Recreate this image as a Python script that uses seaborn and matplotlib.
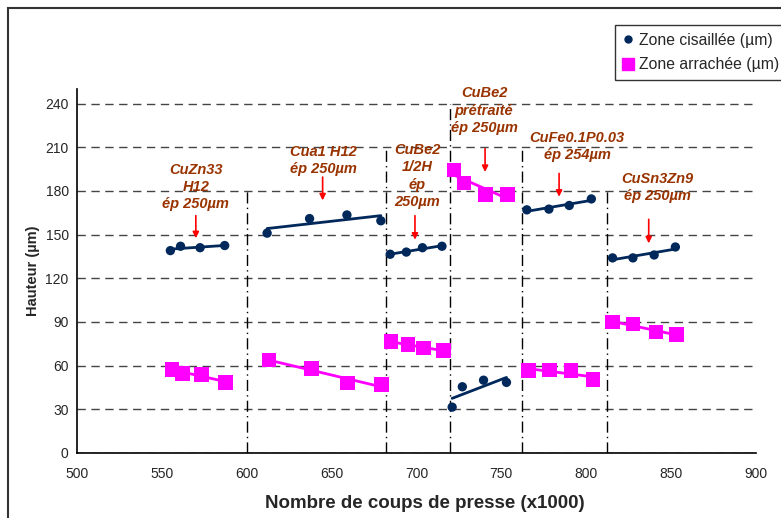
import matplotlib
matplotlib.use('Agg')
import matplotlib.pyplot as plt
import numpy as np
import pandas as pd
import seaborn as sns
from matplotlib.lines import Line2D
from matplotlib.patches import Rectangle

# Data (x in thousands of press strokes, y in µm)
groups = ['CuZn33 H12', 'Cua1 H12', 'CuBe2 1/2H', 'CuBe2 prétraité', 'CuFe0.1P0.03', 'CuSn3Zn9']

cis_x = [[555, 561, 572.5, 587], [612, 637, 659, 679], [684.5, 694, 703.5, 715],
         [721, 727, 739.5, 753], [765, 778, 790, 803], [815.5, 827.5, 840, 852.5]]
cis_y = [[139, 142, 141, 142.5], [151, 161, 163.5, 159.5], [136.5, 138, 141, 142],
         [31.5, 45.5, 50, 48.5], [167, 167.5, 170, 174.5], [134, 134, 136, 141.5]]

arr_x = [[556, 562, 573.5, 587.5], [613, 638, 659.5, 679.5], [685, 695, 704, 716],
         [722, 728, 740.5, 753.5], [766, 778.5, 791, 804], [815.5, 827.5, 841, 853]]
arr_y = [[57.5, 54.5, 54, 48.5], [64, 58, 48, 47], [76.5, 74.5, 72, 70.5],
         [194.5, 185.5, 177.5, 177.5], [56.5, 57, 56.5, 50.5], [90, 88.5, 83, 81.5]]

# separators between materials and how high they go
sep_x = [600, 682, 720, 762, 812]
sep_top = [180, 210, 240, 210, 180]

ann_text = ["CuZn33\nH12\nép 250µm", "Cua1 H12\nép 250µm", "CuBe2\n1/2H\nép\n250µm",
            "CuBe2\nprétraité\nép 250µm", "CuFe0.1P0.03\nép 254µm", "CuSn3Zn9\nép 250µm"]
ann_pos = [(570, 182.7), (645, 201), (700.3, 190.3), (739.8, 235.2), (794.6, 210.5), (841.7, 182.4)]
arrows = [(570, 163, 147.5), (644.7, 189.5, 173.5), (699.1, 163, 146.5),
          (740.4, 209, 193), (784, 192, 176), (836.8, 160.5, 144)]

rows = []
for g, xs, ys in zip(groups, cis_x, cis_y):
    rows += [(g, 'Zone cisaillée (µm)', x, y) for x, y in zip(xs, ys)]
for g, xs, ys in zip(groups, arr_x, arr_y):
    rows += [(g, 'Zone arrachée (µm)', x, y) for x, y in zip(xs, ys)]
df = pd.DataFrame(rows, columns=['group', 'zone', 'x', 'y'])

BLUE = '#00285a'
MAG = '#ff00ff'
BROWN = '#993300'

sns.set_style('white')
plt.rcParams['font.family'] = ['Liberation Sans', 'DejaVu Sans']

fig = plt.figure(figsize=(7.81, 5.18), dpi=100)
ax = fig.add_axes([77 / 781, 1 - 453 / 518, (756 - 77) / 781, (453 - 89) / 518])

# trendlines per material
for g in groups:
    sub = df[(df.group == g) & (df.zone == 'Zone cisaillée (µm)')]
    sns.regplot(data=sub, x='x', y='y', scatter=False, ci=None, truncate=True,
                color=BLUE, line_kws=dict(lw=2, zorder=4), ax=ax)
    sub = df[(df.group == g) & (df.zone == 'Zone arrachée (µm)')]
    sns.regplot(data=sub, x='x', y='y', scatter=False, ci=None, truncate=True,
                color=MAG, line_kws=dict(lw=2, zorder=4), ax=ax)

sns.scatterplot(data=df[df.zone == 'Zone cisaillée (µm)'], x='x', y='y', color=BLUE,
                marker='o', s=45, edgecolor='none', zorder=5, ax=ax, legend=False)
sns.scatterplot(data=df[df.zone == 'Zone arrachée (µm)'], x='x', y='y', color=MAG,
                marker='s', s=110, edgecolor='none', zorder=5, ax=ax, legend=False)

# vertical separators
for x, top in zip(sep_x, sep_top):
    ax.plot([x, x], [0, top], color='black', lw=1, linestyle=(0, (8, 3, 1, 3)), zorder=2)

# annotations
for txt, (x, y) in zip(ann_text, ann_pos):
    ax.text(x, y, txt, ha='center', va='center', color=BROWN, fontsize=10.5,
            fontweight='bold', fontstyle='italic', linespacing=1.3, zorder=6)
for x, y0, y1 in arrows:
    ax.annotate('', xy=(x, y1), xytext=(x, y0),
                arrowprops=dict(arrowstyle='-|>', color='red', lw=1.2,
                                mutation_scale=9, shrinkA=0, shrinkB=0))

ax.set_xlim(500, 900)
ax.set_ylim(0, 250)
ax.set_xticks(np.arange(500, 901, 50))
ax.set_yticks(np.arange(0, 241, 30))
ax.yaxis.grid(True, linestyle=(0, (6, 4)), color='#444444', lw=1)
ax.xaxis.grid(False)
ax.set_axisbelow(True)
for s in ['top', 'right']:
    ax.spines[s].set_visible(False)
for s in ['left', 'bottom']:
    ax.spines[s].set_color('black')
    ax.spines[s].set_linewidth(1.2)
ax.tick_params(axis='y', direction='inout', length=8, width=1, labelsize=10, pad=2)
ax.tick_params(axis='x', direction='out', length=4, width=1, labelsize=10, pad=6)
ax.set_xlabel('Nombre de coups de presse (x1000)', fontsize=13.5, fontweight='bold')
ax.set_ylabel('Hauteur (µm)', fontsize=10.5, fontweight='bold')
ax.xaxis.set_label_coords(0.5125, -0.115)
ax.yaxis.set_label_coords(-0.055, 0.5)

# legend
handles = [Line2D([], [], marker='o', color=BLUE, linestyle='none', markersize=5),
           Line2D([], [], marker='s', color=MAG, linestyle='none', markersize=9)]
fig.legend(handles, ['Zone cisaillée (µm)', 'Zone arrachée (µm)'], loc='upper left',
           bbox_to_anchor=(615 / 781, 1 - 25 / 518), frameon=True, fancybox=False,
           edgecolor='black', fontsize=11.3, handlelength=0.7, handletextpad=0.3,
           borderpad=0.5, labelspacing=0.6, borderaxespad=0)

# chart-area border
fig.patches.append(Rectangle((8 / 781, -0.2), 1.2, 1.2 - 8 / 518, transform=fig.transFigure,
                             fill=False, edgecolor='#333333', lw=1.5))

fig.savefig('out.png', dpi=100)
